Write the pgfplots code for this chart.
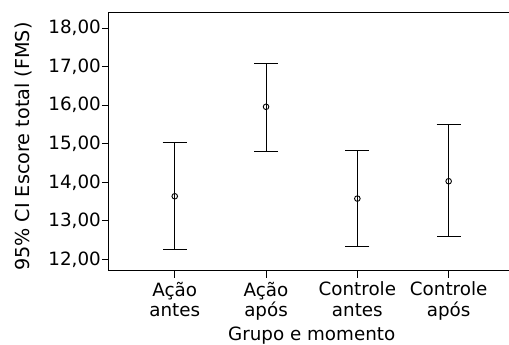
\documentclass[border=0pt]{standalone}
\usepackage{fontspec}
\setmainfont{DejaVu Sans}
\usepackage{pgfplots}
\pgfplotsset{compat=1.18}
\pgfplotstableread{
x y ep em
0 13.64 1.40 1.38
1 15.96 1.11 1.17
2 13.58 1.25 1.25
3 14.03 1.47 1.43
}\datatab
\begin{document}
\fontsize{18.3}{21}\selectfont
\begin{tikzpicture}
\begin{axis}[
 scale only axis, width=405.4pt, height=258pt,
 xmin=-0.72, xmax=3.72, ymin=11.71, ymax=18.40,
 axis line style={line width=1pt},
 xtick={0,1,2,3},
 xticklabels={{Ação\\antes},{Ação\\após},{Controle\\antes},{Controle\\após}},
 xticklabel style={align=center, font=\fontsize{18.3}{20.5}\selectfont, inner sep=2pt, yshift=-2pt},
 ytick={12,13,14,15,16,17,18},
 yticklabel style={inner sep=1pt, font=\fontsize{18.3}{21}\selectfont},
 tick align=outside, major tick length=7pt,
 tick style={line width=1pt, black},
 xtick pos=bottom, ytick pos=left,
 /pgf/number format/.cd, fixed, fixed zerofill, precision=2, use comma, assume math mode=true,
 /pgfplots/.cd,
 xlabel={Grupo e momento},
 ylabel={95\% CI Escore total (FMS)},
 xlabel style={yshift=2pt, font=\fontsize{18.3}{21}\selectfont},
 ylabel style={yshift=9pt, xshift=-5pt, font=\fontsize{19.2}{21}\selectfont},
]
\addplot[black, line width=1pt, only marks, mark=o, mark size=2.8pt, mark options={fill=white, line width=0.9pt},
 error bars/.cd, y dir=both, y explicit,
 error bar style={line width=1pt},
 error mark options={rotate=90, mark size=12pt, line width=1pt}]
 table[x=x, y=y, y error plus=ep, y error minus=em] {\datatab};
\end{axis}
\pgfresetboundingbox
\path ([xshift=-109pt,yshift=-74pt]current axis.south west) rectangle ([xshift=-5.4pt,yshift=12.7pt]current axis.north east);
\end{tikzpicture}
\end{document}
